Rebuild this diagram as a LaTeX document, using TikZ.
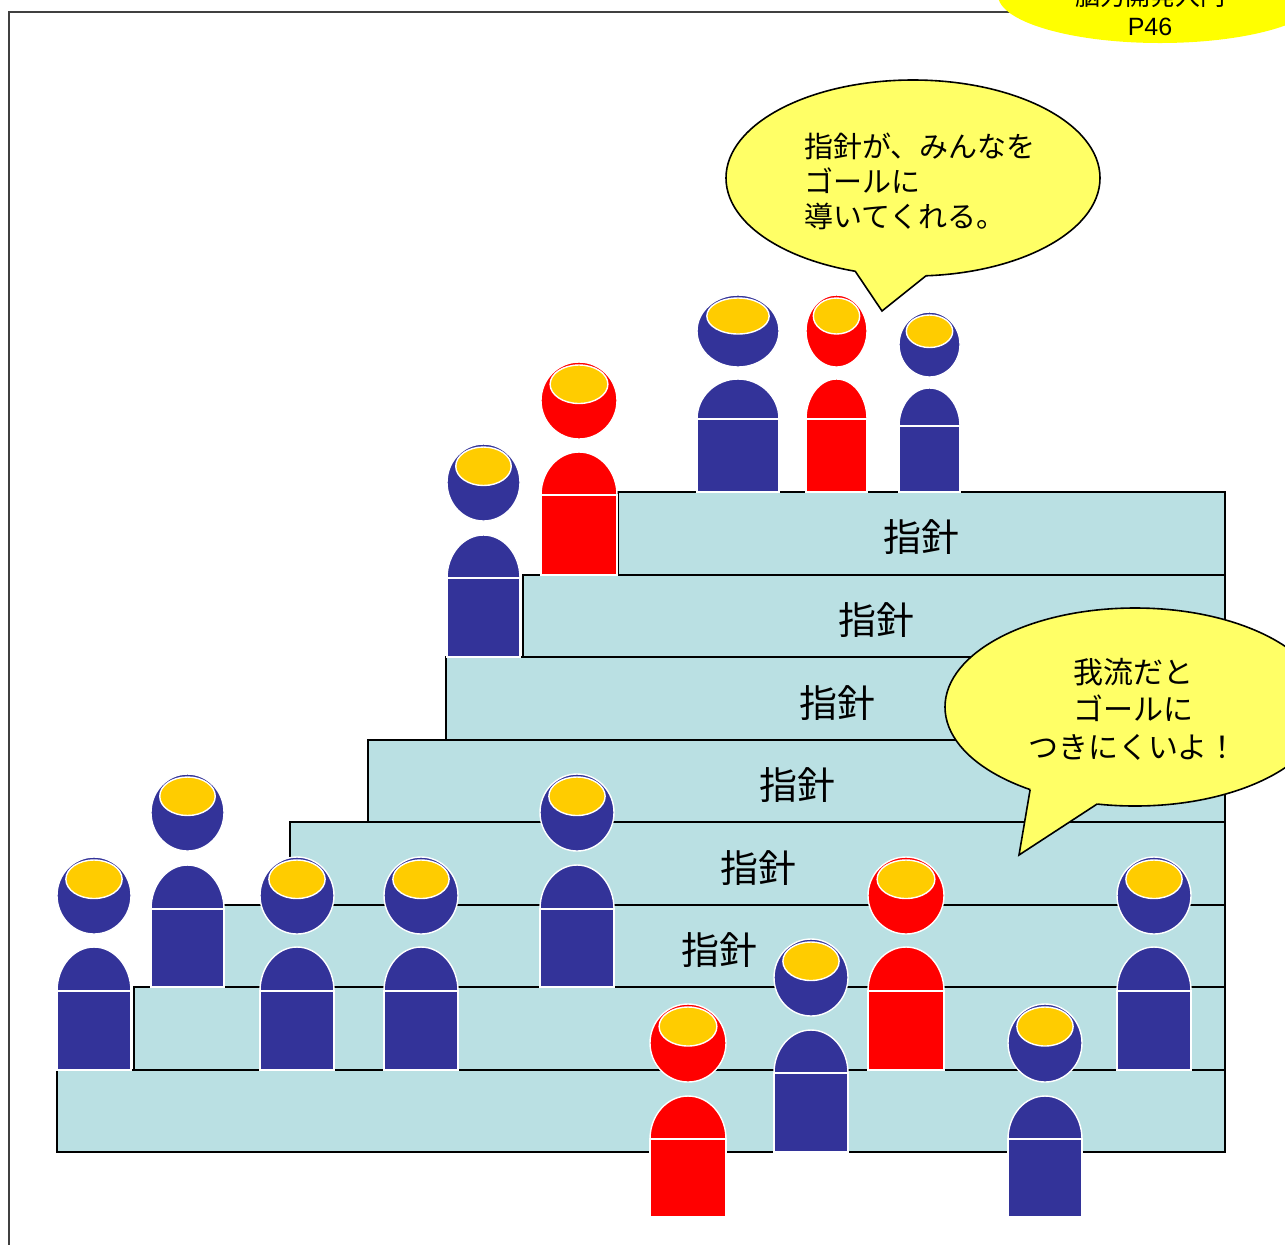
\documentclass[tikz,border=0pt]{standalone}
\usepackage{fontspec}
\setmainfont{Noto Sans CJK JP}
\newfontfamily\pagefont{Liberation Sans}
\usetikzlibrary{positioning}

\definecolor{guyblue}{HTML}{333399}
\definecolor{guyred}{HTML}{FF0000}
\definecolor{facegold}{HTML}{FFCC00}
\definecolor{stepblue}{HTML}{BAE0E3}
\definecolor{bubbleyellow}{HTML}{FFFF66}
\definecolor{tagyellow}{HTML}{FFFF00}
\definecolor{framegray}{HTML}{404040}

% #1 colour, #2 left, #3 right, #4 head top, #5 head bottom, #6 body top, #7 waist, #8 feet
\newcommand{\member}[8]{%
  \fill[#1,draw=white,line width=0.7pt] ({(#2+#3)/2},#7) ellipse [x radius={(#3-#2)/2}, y radius={#7-#6}];
  \fill[#1,draw=white,line width=0.7pt] (#2,#7) rectangle (#3,#8);
  \fill[#1,draw=white,line width=0.7pt] ({(#2+#3)/2},{(#4+#5)/2}) ellipse [x radius={(#3-#2)/2}, y radius={(#5-#4)/2}];
  \fill[facegold,draw=white,line width=0.7pt] ({(#2+#3)/2},{#4+3+(#5-#4)/4}) ellipse [x radius={0.38*(#3-#2)}, y radius={(#5-#4)/4}];
}

\begin{document}
\begin{tikzpicture}[x=0.5pt,y=-0.5pt,
    stepbox/.style={fill=stepblue,draw=black,line width=1pt},
    steptext/.style={font=\fontsize{19}{22}\selectfont,inner sep=0pt},
    talk/.style={fill=bubbleyellow,draw=black,line width=0.8pt},
    talkedge/.style={draw=black,line width=0.8pt,line join=miter}]
        \useasboundingbox (0,0) rectangle (1285,1244);
        \clip (0,0) rectangle (1285,1244);
        \draw[framegray,line width=0.75pt] (9,12) rectangle (1400,1400);
        \fill[tagyellow] (1160,-5) ellipse [x radius=162, y radius=48];
        \node[align=center,inner sep=0pt,font=\fontsize{12.5}{15}\selectfont] (tag) at (1150,10) {脳力開発入門\\{\pagefont P46}};
        % the stairs
        \foreach \lx/\ty/\by in {57/1070/1152,134/987/1070,212/905/987,290/822/905,368/740/822,446/657/740,523/575/657,618/492/575}
            \draw[stepbox] (\lx,\ty) rectangle (1225,\by);
        \foreach \n/\x/\y in {3/719/950,4/758/868,5/797/785,6/837/703,7/876/620,8/921/537}
            \node[steptext] (guide\n) at (\x,\y) {指針};
        % people on the steps
        \member{guyblue}{57}{131}{857}{934}{947}{991}{1070}
        \member{guyblue}{151}{224}{774}{851}{865}{909}{987}
        \member{guyblue}{260}{334}{857}{934}{947}{991}{1070}
        \member{guyblue}{384}{458}{857}{934}{947}{991}{1070}
        \member{guyblue}{540}{614}{774}{851}{865}{909}{987}
        \member{guyred}{650}{726}{1004}{1082}{1096}{1139}{1217}
        \member{guyblue}{774}{848}{939}{1016}{1030}{1073}{1152}
        \member{guyred}{868}{944}{857}{934}{947}{991}{1070}
        \member{guyblue}{1008}{1082}{1004}{1082}{1096}{1139}{1217}
        \member{guyblue}{1117}{1191}{857}{934}{947}{991}{1070}
        \member{guyblue}{447}{520}{444}{521}{535}{578}{657}
        \member{guyred}{541}{617}{362}{439}{452}{495}{575}
        \member{guyblue}{697}{779}{295}{367}{379}{419}{492}
        \member{guyred}{806}{867}{295}{367}{379}{419}{492}
        \member{guyblue}{899}{960}{312}{377}{388}{426}{492}
        % speech bubbles
        \coordinate (talk1) at (913,178);
        \coordinate (tip1) at (882,311);
        \draw[talk] (talk1) ellipse [x radius=187, y radius=98];
        \fill[bubbleyellow] ([shift={(talk1)}]108:187 and 98) -- (tip1) -- ([shift={(talk1)}]86:187 and 98) -- (talk1) -- cycle;
        \draw[talkedge] ([shift={(talk1)}]108:187 and 98) -- (tip1) -- ([shift={(talk1)}]86:187 and 98);
        \node[anchor=west,align=left,inner sep=0pt,font=\fontsize{14.5}{17.5}\selectfont] (say1) at (804,181) {指針が、みんなを\\ゴールに\\導いてくれる。};
        \coordinate (talk2) at (1135,707);
        \coordinate (tip2) at (1019,855);
        \draw[talk] (talk2) ellipse [x radius=190, y radius=99];
        \fill[bubbleyellow] ([shift={(talk2)}]123.5:190 and 99) -- (tip2) -- ([shift={(talk2)}]101.5:190 and 99) -- (talk2) -- cycle;
        \draw[talkedge] ([shift={(talk2)}]123.5:190 and 99) -- (tip2) -- ([shift={(talk2)}]101.5:190 and 99);
        \node[align=center,inner sep=0pt,font=\fontsize{15}{18.75}\selectfont] (say2) at (1133,709) {我流だと\\ゴールに\\つきにくいよ！};
    \end{tikzpicture}
\end{document}
